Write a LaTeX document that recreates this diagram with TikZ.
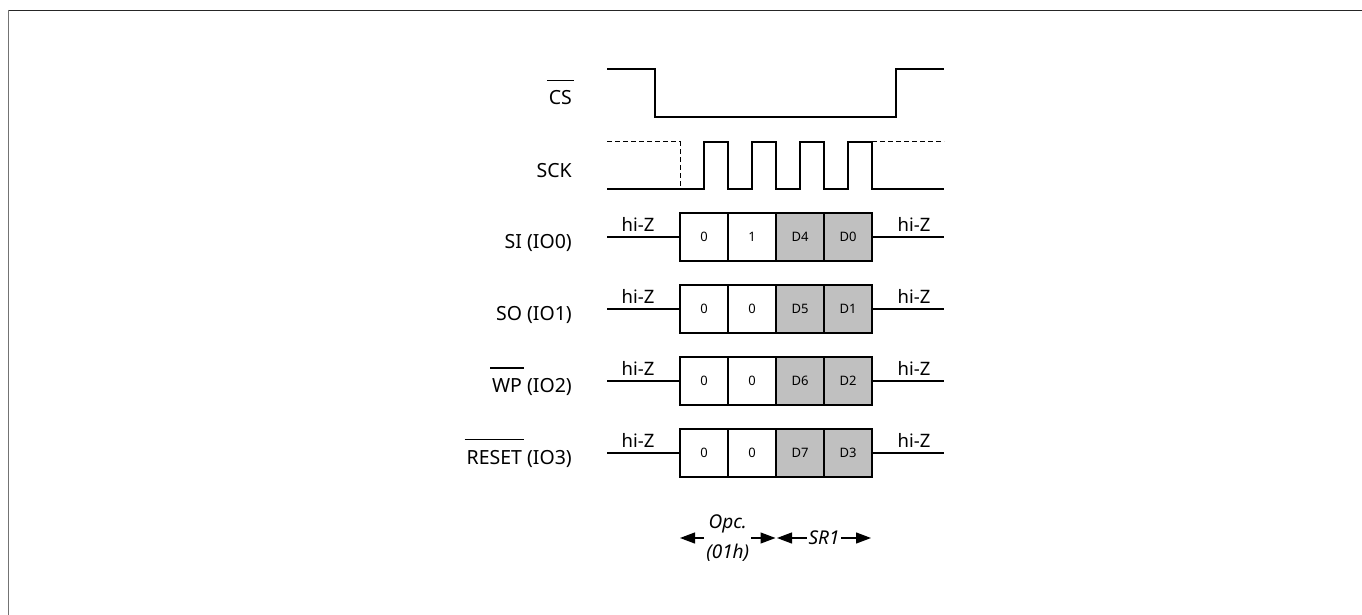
\documentclass[tikz,border=0pt]{standalone}
\usepackage{fontspec}
\setmainfont{Noto Sans}
\usetikzlibrary{arrows.meta}
\definecolor{cellgray}{HTML}{C0C0C0}
\newcommand\myovl[1]{\setbox0=\hbox{#1}\vbox{\offinterlineskip\hbox{\kern-2pt\vrule height 1.3pt width \dimexpr\wd0+4pt\relax\kern-2pt}\kern 9.5pt\box0}}
\begin{document}
\begin{tikzpicture}[x=1pt,y=-1pt,
  sig/.style={line width=1.2pt, line join=miter},
  dsh/.style={line width=1pt, dash pattern=on 5pt off 3pt},
  cell/.style={draw, line width=1.2pt, minimum width=48pt, minimum height=48pt, inner sep=0pt, font=\fontsize{13}{15}\selectfont},
  dcell/.style={cell, fill=cellgray},
  lbl/.style={anchor=base east, inner sep=0pt, font=\fontsize{19.5}{23}\selectfont},
  hiz/.style={anchor=base, inner sep=0pt, font=\fontsize{18.5}{22}\selectfont},
  dim/.style={{Triangle[length=15pt,width=11pt]}-{Triangle[length=15pt,width=11pt]}, line width=1.2pt},
  dlab/.style={fill=white, inner sep=2pt, align=center, font=\fontsize{19}{30}\selectfont\itshape}]
\useasboundingbox (0,0) rectangle (1362,615);
% frame
\draw[line width=1.2pt, black!85] (8,10.5) -- (1362,10.5);
\draw[line width=1.5pt, black!55] (8.5,10) -- (8.5,615);
% labels
\node[lbl] (lcs) at (572,105) {\myovl{CS}};
\node[lbl] (lsck) at (572,177.5) {SCK};
\node[lbl] (lsi) at (572,248) {SI (IO0)};
\node[lbl] (lso) at (572,320) {SO (IO1)};
\node[lbl] (lwp) at (572,392) {\myovl{WP} (IO2)};
\node[lbl] (lrs) at (572,464) {\myovl{RESET} (IO3)};
% CS waveform
\draw[sig] (607,69) -- (655,69) -- (655,117) -- (896,117) -- (896,69) -- (944,69);
% SCK waveform
\draw[sig] (607,189) -- (704,189) -- (704,142) -- (728,142) -- (728,189) -- (752,189) -- (752,142) -- (776,142) -- (776,189) -- (800,189) -- (800,142) -- (824,142) -- (824,189) -- (848,189) -- (848,142) -- (872,142) -- (872,189) -- (944,189);
\draw[dsh] (607,142) -- (680,142) -- (680,189);
\draw[dsh] (872,142) -- (944,142);
% data rows
\foreach \n/\y/\a/\b/\c/\d in {si/237/0/1/D4/D0, so/309/0/0/D5/D1, wp/381/0/0/D6/D2, rs/453/0/0/D7/D3}{
  \node[cell] (\n-a) at (704,\y) {\a};
  \node[cell] (\n-b) at (752,\y) {\b};
  \node[dcell] (\n-c) at (800,\y) {\c};
  \node[dcell] (\n-d) at (848,\y) {\d};
  \coordinate (\n-L) at (607,\y);
  \coordinate (\n-R) at (944,\y);
  \draw[sig] (\n-L) -- (\n-a.west);
  \draw[sig] (\n-d.east) -- (\n-R);
  \node[hiz] (\n-hl) at (638,\y-5.5) {hi-Z};
  \node[hiz] (\n-hr) at (914,\y-5.5) {hi-Z};
}
% dimension arrows
\coordinate (a1) at (680,538);
\coordinate (a2) at (775.5,538);
\coordinate (a3) at (777,538);
\coordinate (a4) at (871,538);
\draw[dim] (a1) -- node[dlab] (opc) {Opc.\\(01h)} (a2);
\draw[dim] (a3) -- node[dlab] (sr1) {SR1} (a4);
\end{tikzpicture}
\end{document}
